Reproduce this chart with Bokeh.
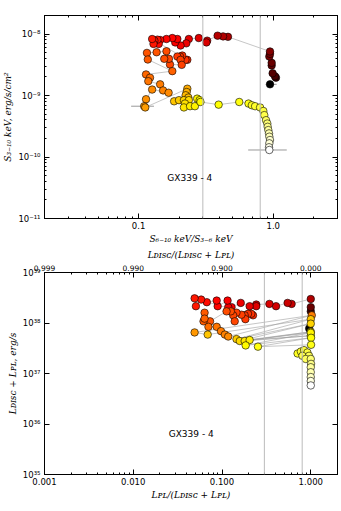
from bokeh.plotting import figure
from bokeh.models import (ColumnDataSource, Range1d, LogAxis, FixedTicker, Span, Label,
                          PrintfTickFormatter)
from bokeh.layouts import column
from bokeh.embed import file_html
from bokeh.resources import INLINE

# ---------------- data: top panel (hardness ratio vs 3-10 keV flux) ----------------
top_ratio = [0.946, 1.047, 1.03, 0.989, 0.973, 0.973, 0.935, 0.946, 0.946,
             0.461, 0.424, 0.386,
             0.323, 0.319, 0.280, 0.236, 0.226, 0.205, 0.187, 0.194, 0.178, 0.161, 0.1445, 0.141,
             0.138, 0.131, 0.129, 0.126,
             0.230, 0.223, 0.211, 0.203, 0.194, 0.205, 0.209, 0.171, 0.168, 0.155, 0.161, 0.136,
             0.1153, 0.117, 0.178,
             0.1135, 0.1215, 0.118, 0.1445, 0.152, 0.167, 0.126, 0.1135, 0.110, 0.112,
             0.230, 0.2275, 0.2235, 0.234, 0.1835, 0.1995, 0.217, 0.236, 0.221, 0.217, 0.241,
             0.262, 0.272, 0.284, 0.288,
             0.393, 0.559,
             0.655, 0.693, 0.733, 0.798, 0.844, 0.858, 0.884, 0.903, 0.909, 0.919, 0.930, 0.935,
             0.946, 0.935, 0.930, 0.935]
top_flux = [1.52e-9, 1.95e-9, 2.05e-9, 2.3e-9, 3.08e-9, 3.4e-9, 4.3e-9, 4.75e-9, 5.2e-9,
            9.0e-9, 9.15e-9, 9.4e-9,
            7.8e-9, 7.3e-9, 8.6e-9, 8.3e-9, 7.05e-9, 6.5e-9, 7.3e-9, 8.3e-9, 8.6e-9, 8.3e-9, 8.0e-9, 6.9e-9,
            8.1e-9, 7.8e-9, 6.9e-9, 8.3e-9,
            3.8e-9, 3.8e-9, 4.46e-9, 4.3e-9, 4.3e-9, 3.8e-9, 3.15e-9, 3.19e-9, 3.95e-9, 3.95e-9, 5.25e-9, 5.05e-9,
            4.93e-9, 3.85e-9, 2.49e-9,
            2.2e-9, 1.95e-9, 1.71e-9, 1.52e-9, 1.21e-9, 1.11e-9, 1.25e-9, 8.7e-10, 6.7e-10, 6.4e-10,
            1.29e-9, 1.14e-9, 1.01e-9, 9.25e-10, 8.05e-10, 8.4e-10, 8.4e-10, 8.4e-10, 7.4e-10, 6.4e-10, 6.7e-10,
            6.7e-10, 8.9e-10, 8.4e-10, 7.85e-10,
            7.1e-10, 7.85e-10,
            7.4e-10, 6.95e-10, 6.7e-10, 6.4e-10, 5.6e-10, 4.8e-10, 3.97e-10, 3.5e-10, 3.1e-10, 2.74e-10, 2.42e-10,
            2.14e-10, 1.89e-10, 1.67e-10, 1.44e-10, 1.30e-10]
top_phase = [0.00, 0.08, 0.10, 0.12, 0.14, 0.15, 0.17, 0.18, 0.19,
             0.24, 0.25, 0.26,
             0.30, 0.31, 0.32, 0.33, 0.34, 0.35, 0.36, 0.36, 0.37, 0.37, 0.38, 0.38,
             0.39, 0.39, 0.40, 0.40,
             0.43, 0.44, 0.44, 0.45, 0.45, 0.46, 0.46, 0.47, 0.47, 0.48, 0.48, 0.49,
             0.49, 0.50, 0.51,
             0.52, 0.53, 0.54, 0.55, 0.56, 0.57, 0.57, 0.58, 0.59, 0.60,
             0.62, 0.63, 0.64, 0.65, 0.66, 0.67, 0.68, 0.69, 0.70, 0.71, 0.72,
             0.73, 0.73, 0.74, 0.74,
             0.75, 0.76,
             0.77, 0.78, 0.79, 0.80, 0.81, 0.82, 0.84, 0.86, 0.88, 0.90, 0.92,
             0.93, 0.95, 0.96, 0.98, 1.00]
# horizontal error bars (ratio)
top_err_y = [6.7e-10, 1.52e-9, 1.30e-10]
top_err_lo = [0.088, 0.88, 0.651]
top_err_hi = [0.130, 1.06, 1.26]

# ---------------- data: bottom panel (PL fraction vs total luminosity) ----------------
bot_frac = [0.96, 1.0, 1.0, 1.0,
            0.608, 0.548, 0.406, 0.342, 0.243, 0.243, 0.2047, 0.1625, 0.128, 0.1175, 0.1155,
            0.0893, 0.0871, 0.0674, 0.0582, 0.0508, 0.0491,
            0.2233, 0.2137, 0.1963, 0.180, 0.1833, 0.1655, 0.1455, 0.1336, 0.139, 0.1256, 0.1125,
            0.0733, 0.0619, 0.0636, 0.0636,
            0.0703, 0.0871, 0.0973, 0.1077, 0.1175, 1.026, 0.0491,
            0.069, 1.0, 0.1455, 1.0, 0.1585, 1.0, 0.180, 1.0, 0.2047, 1.0, 0.1847, 1.007, 0.254, 1.007,
            0.71, 0.773, 0.84, 0.916, 0.805, 0.955, 0.877, 1.0, 1.007, 1.0, 1.0, 1.0, 1.0, 1.0]
bot_lum = [7.8e37, 1.7e38, 2.06e38, 2.99e38,
           2.39e38, 2.5e38, 2.15e38, 2.39e38, 2.32e38, 2.15e38, 2.15e38, 2.5e38, 2.06e38, 2.06e38, 2.78e38,
           2.15e38, 2.78e38, 2.58e38, 2.91e38, 2.15e38, 3.08e38,
           1.42e38, 1.52e38, 1.52e38, 1.42e38, 1.19e38, 1.46e38, 1.6e38, 1.42e38, 1.08e38, 1.7e38, 1.7e38,
           1.08e38, 1.08e38, 1.6e38, 1.22e38,
           8.4e37, 8.4e37, 6.9e37, 5.9e37, 5.4e37, 1.42e38, 6.5e37,
           5.9e37, 1.19e38, 4.8e37, 9.7e37, 4.4e37, 6.7e37, 4.4e37, 5.6e37, 4.6e37, 6.4e37, 3.6e37, 5.1e37,
           3.4e37, 3.7e37,
           2.49e37, 2.72e37, 2.9e37, 2.6e37, 2.24e37, 2.24e37, 1.94e37, 1.94e37, 1.55e37, 1.33e37, 1.06e37,
           8.5e36, 7.1e36, 5.8e36]
bot_phase = [0.00, 0.08, 0.15, 0.25,
             0.28, 0.29, 0.30, 0.31, 0.32, 0.32, 0.33, 0.34, 0.35, 0.35, 0.36,
             0.37, 0.37, 0.38, 0.39, 0.40, 0.40,
             0.43, 0.44, 0.44, 0.45, 0.45, 0.46, 0.46, 0.47, 0.47, 0.48, 0.48,
             0.49, 0.50, 0.50, 0.51,
             0.53, 0.54, 0.55, 0.56, 0.57, 0.55, 0.59,
             0.66, 0.66, 0.67, 0.68, 0.69, 0.70, 0.71, 0.72, 0.72, 0.73, 0.74, 0.75, 0.76, 0.77,
             0.78, 0.79, 0.80, 0.81, 0.82, 0.83, 0.84, 0.86, 0.88, 0.90, 0.92, 0.94, 0.97, 1.00]

state_lines = [0.3, 0.8]
source_name = "GX339 - 4"


def hot(t):
    r = min(max(t / 0.365079, 0.0), 1.0)
    g = min(max((t - 0.365079) / (0.746032 - 0.365079), 0.0), 1.0)
    b = min(max((t - 0.746032) / (1.0 - 0.746032), 0.0), 1.0)
    return "#%02x%02x%02x" % (round(r * 255), round(g * 255), round(b * 255))


FONT = "DejaVu Sans"
SERIF = "DejaVu Serif"


def style_axis(ax, size="8.5px"):
    ax.major_tick_in = 5
    ax.major_tick_out = 0
    ax.minor_tick_in = 2
    ax.minor_tick_out = 0
    ax.axis_line_color = "black"
    ax.major_tick_line_color = "black"
    ax.minor_tick_line_color = "black"
    ax.major_label_text_font = FONT
    ax.major_label_text_font_size = size
    ax.major_label_text_color = "black"
    ax.major_label_standoff = 4
    ax.axis_label_text_font = SERIF
    ax.axis_label_text_font_size = "9px"
    ax.axis_label_text_font_style = "italic"
    ax.axis_label_text_color = "black"
    ax.axis_label_standoff = 2


def blank_axis(ax, ticks):
    style_axis(ax)
    ax.major_label_overrides = {t: "" for t in ticks}
    ax.major_label_text_font_size = "1px"
    ax.major_label_standoff = 0


def decade_minors(e0, e1):
    return [m * 10.0 ** e for e in range(e0, e1) for m in range(2, 10)]


# ================= top panel =================
p1 = figure(width=341, height=246, x_axis_type="log", y_axis_type="log",
            x_range=Range1d(0.02, 3.0), y_range=Range1d(1e-11, 2e-8),
            output_backend="svg", toolbar_location=None,
            min_border_left=41, min_border_right=4, min_border_top=15, min_border_bottom=27)
p1.grid.visible = False
p1.outline_line_color = "black"
p1.background_fill_color = "white"

x1_major = [0.1, 1.0]
y1_major = [1e-11, 1e-10, 1e-9, 1e-8]
x1_ticker = FixedTicker(ticks=x1_major, minor_ticks=decade_minors(-2, 1))
y1_ticker = FixedTicker(ticks=y1_major, minor_ticks=decade_minors(-11, -7))

xa = p1.xaxis[0]
xa.ticker = x1_ticker
xa.formatter = PrintfTickFormatter(format="%.1f")
style_axis(xa)
xa.major_label_standoff = 3
xa.axis_label = "S\u2086\u208b\u2081\u2080 keV/S\u2083\u208b\u2086 keV"

ya = p1.yaxis[0]
ya.ticker = y1_ticker
style_axis(ya)
ya.major_label_overrides = {1e-11: "10\u207b\u00b9\u00b9", 1e-10: "10\u207b\u00b9\u2070",
                            1e-9: "10\u207b\u2079", 1e-8: "10\u207b\u2078"}
ya.axis_label = "S\u2083\u208b\u2081\u2080 keV, erg/s/cm\u00b2"

ax_top1 = LogAxis(ticker=x1_ticker)
blank_axis(ax_top1, x1_major)
p1.add_layout(ax_top1, "above")
ax_right1 = LogAxis(ticker=y1_ticker)
blank_axis(ax_right1, y1_major)
p1.add_layout(ax_right1, "right")

for loc in state_lines:
    p1.add_layout(Span(location=loc, dimension="height", line_color="#bbbbbb", line_width=1))

src1 = ColumnDataSource(dict(x=top_ratio, y=top_flux, c=[hot(t) for t in top_phase]))
p1.segment(x0=top_err_lo, x1=top_err_hi, y0=top_err_y, y1=top_err_y, line_color="#999999", line_width=1)
p1.line("x", "y", source=src1, line_color="#999999", line_width=0.7, line_alpha=0.8)
p1.scatter("x", "y", source=src1, size=7.5, fill_color="c", line_color="black", line_width=0.6)
p1.add_layout(Label(x=0.24, y=4.5e-11, text=source_name, text_align="center", text_baseline="middle",
                    text_font=FONT, text_font_size="9px", text_color="black"))

# ================= bottom panel =================
p2 = figure(width=341, height=256, x_axis_type="log", y_axis_type="log",
            x_range=Range1d(0.001, 2.0), y_range=Range1d(1e35, 1e39),
            output_backend="svg", toolbar_location=None,
            min_border_left=41, min_border_right=4, min_border_top=23, min_border_bottom=27)
p2.grid.visible = False
p2.outline_line_color = "black"

x2_major = [0.001, 0.01, 0.1, 1.0]
y2_major = [1e35, 1e36, 1e37, 1e38, 1e39]
x2_ticker = FixedTicker(ticks=x2_major, minor_ticks=decade_minors(-3, 1))
y2_ticker = FixedTicker(ticks=y2_major, minor_ticks=[])

xb = p2.xaxis[0]
xb.ticker = x2_ticker
xb.formatter = PrintfTickFormatter(format="%.3f")
style_axis(xb)
xb.major_label_standoff = 3
xb.axis_label = "L\u1d18\u029f/(L\u1d05\u026as\u1d04 + L\u1d18\u029f)"

yb = p2.yaxis[0]
yb.ticker = y2_ticker
style_axis(yb)
yb.major_label_overrides = {1e35: "10\u00b3\u2075", 1e36: "10\u00b3\u2076", 1e37: "10\u00b3\u2077",
                            1e38: "10\u00b3\u2078", 1e39: "10\u00b3\u2079"}
yb.axis_label = "L\u1d05\u026as\u1d04 + L\u1d18\u029f, erg/s"

ax_top2 = LogAxis(ticker=x2_ticker)
style_axis(ax_top2, "7.5px")
ax_top2.major_label_standoff = 2
ax_top2.major_label_overrides = {0.001: "0.999", 0.01: "0.990", 0.1: "0.900", 1.0: "0.000"}
ax_top2.axis_label = "L\u1d05\u026as\u1d04/(L\u1d05\u026as\u1d04 + L\u1d18\u029f)"
p2.add_layout(ax_top2, "above")
ax_right2 = LogAxis(ticker=y2_ticker)
blank_axis(ax_right2, y2_major)
p2.add_layout(ax_right2, "right")

for loc in state_lines:
    p2.add_layout(Span(location=loc, dimension="height", line_color="#bbbbbb", line_width=1))

src2 = ColumnDataSource(dict(x=bot_frac, y=bot_lum, c=[hot(t) for t in bot_phase]))
p2.line("x", "y", source=src2, line_color="#999999", line_width=0.7, line_alpha=0.8)
p2.scatter("x", "y", source=src2, size=7.5, fill_color="c", line_color="black", line_width=0.6)
p2.add_layout(Label(x=0.045, y=6.2e35, text=source_name, text_align="center", text_baseline="middle",
                    text_font=FONT, text_font_size="9px", text_color="black"))

layout = column(p1, p2)
open("out.html", "w").write(file_html(layout, INLINE))
